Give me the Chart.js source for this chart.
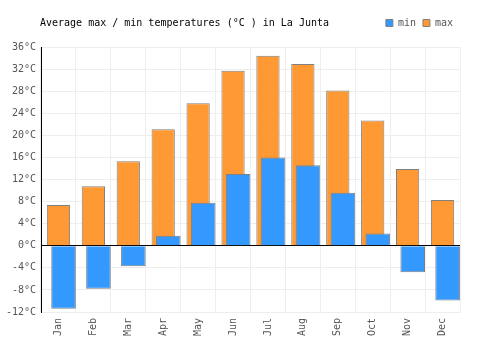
<!DOCTYPE html>
<html>
<head>
<meta charset="utf-8">
<script src="https://cdn.jsdelivr.net/npm/chart.js@4"></script>
<style>
  html, body { margin: 0; padding: 0; background: #fff; }
  #wrap { width: 500px; height: 350px; }
</style>
</head>
<body>
<div id="wrap"><canvas id="tempChart"></canvas></div>
<script>
/* chart data */
const chartTitle = 'Average max / min temperatures (°C ) in La Junta';
const months = ['Jan', 'Feb', 'Mar', 'Apr', 'May', 'Jun', 'Jul', 'Aug', 'Sep', 'Oct', 'Nov', 'Dec'];
const maxTemps = [7.4, 10.8, 15.3, 21.1, 25.8, 31.7, 34.4, 32.9, 28.1, 22.7, 13.9, 8.3];
const minTemps = [-11.4, -7.8, -3.7, 1.8, 7.8, 13.0, 16.0, 14.6, 9.6, 2.2, -4.8, -9.9];
const yTicks = { min: -12, max: 36, step: 4 };

const FONT = '"DejaVu Sans Mono", monospace';

/* -----------------------------
   small helpers
------------------------------ */
// legend gets extra room below it so the plot starts lower
const legendSpace = {
  id: 'legendSpace',
  afterInit(chart) {
    const legend = chart.legend;
    const fit = legend.fit;
    legend.fit = function () {
      fit.call(this);
      this.height += 9;
    };
  }
};

// title sits on the same line as the legend
const titleLine = {
  id: 'titleLine',
  afterDraw(chart) {
    const ctx = chart.ctx;
    ctx.save();
    ctx.font = '10px ' + FONT;
    ctx.fillStyle = '#000';
    ctx.textBaseline = 'middle';
    ctx.textAlign = 'left';
    ctx.fillText(chartTitle, 40, 23);
    ctx.restore();
  }
};

/* -----------------------------
   build chart
------------------------------ */
const ctx = document.getElementById('tempChart').getContext('2d');

new Chart(ctx, {
  type: 'bar',
  data: {
    labels: months,
    datasets: [
      {
        // empty spacer so the min bars sit right of centre
        label: '',
        data: months.map(() => null),
        order: 0,
        categoryPercentage: 0.583,
        barPercentage: 1
      },
      {
        label: 'min',
        data: minTemps,
        order: 1,
        backgroundColor: '#3399ff',
        borderColor: '#808080',
        borderWidth: 1,
        categoryPercentage: 0.583,
        barPercentage: 2.42
      },
      {
        label: 'max',
        data: maxTemps,
        order: 2,
        grouped: false,
        backgroundColor: '#ff9933',
        borderColor: '#808080',
        borderWidth: 1,
        categoryPercentage: 1,
        barPercentage: 0.666
      }
    ]
  },
  options: {
    responsive: true,
    maintainAspectRatio: false,
    animation: false,
    layout: { padding: { top: 11, right: 40, bottom: 14, left: 6 } },
    plugins: {
      title: { display: false },
      tooltip: { enabled: false },
      legend: {
        position: 'top',
        align: 'end',
        labels: {
          boxWidth: 7,
          boxHeight: 7,
          padding: 7,
          color: '#555',
          font: { family: FONT, size: 10 },
          filter: item => item.text !== ''
        }
      }
    },
    scales: {
      x: {
        grid: { color: '#eeeeee', drawTicks: false },
        border: { color: '#eeeeee' },
        afterFit: s => { s.height = 24; },
        ticks: {
          color: '#555',
          font: { family: FONT, size: 10 },
          maxRotation: 90,
          minRotation: 90,
          padding: 6
        }
      },
      y: {
        min: yTicks.min,
        max: yTicks.max,
        afterFit: s => { s.width = 35; },
        grid: {
          drawTicks: false,
          color: c => (c.tick && c.tick.value === 0 ? '#000' : '#eeeeee')
        },
        border: { color: '#000' },
        ticks: {
          stepSize: yTicks.step,
          color: '#555',
          padding: 5,
          font: { family: FONT, size: 10 },
          callback: v => v + '°C'
        }
      }
    }
  },
  plugins: [legendSpace, titleLine]
});
</script>
</body>
</html>
